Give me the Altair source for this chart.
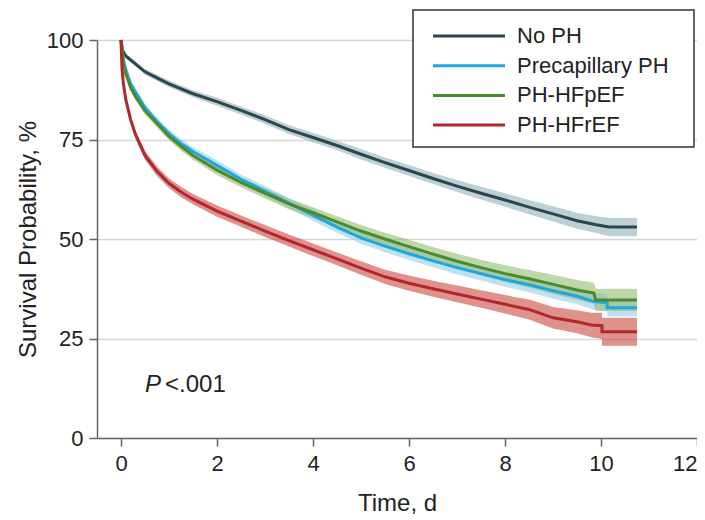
import altair as alt
import pandas as pd

# ---- data (time in days, survival in %) ----
series = ["No PH", "Precapillary PH", "PH-HFpEF", "PH-HFrEF"]
line_colors = ["#2c4650", "#1ea6de", "#4b8b2b", "#b22630"]
band_colors = ["#8fb0ba", "#93cdee", "#93bd72", "#c9483d"]

t_noph = [0, 0.03, 0.1, 0.25, 0.5, 0.75, 1, 1.5, 2, 2.5, 3, 3.5, 4, 4.5, 5, 5.5, 6, 6.5, 7, 7.5, 8, 8.5, 9, 9.5, 9.9, 10.17, 10.75]
s_noph = [100, 97.5, 96, 94.5, 92, 90.5, 89, 86.5, 84.5, 82.3, 80, 77.5, 75.5, 73.5, 71.3, 69.2, 67.2, 65.2, 63.3, 61.5, 59.8, 58, 56.3, 54.6, 53.6, 53, 53]
ci_noph = [0, 0.4, 0.5, 0.6, 0.7, 0.8, 0.8, 0.9, 1.0, 1.0, 1.1, 1.1, 1.2, 1.2, 1.3, 1.3, 1.4, 1.4, 1.5, 1.6, 1.7, 1.8, 1.9, 2.0, 2.1, 2.3, 2.3]

t_pre = [0, 0.05, 0.1, 0.2, 0.3, 0.5, 0.75, 1, 1.25, 1.5, 2, 2.5, 3, 3.5, 4, 4.5, 5, 5.5, 6, 6.5, 7, 7.5, 8, 8.5, 9, 9.5, 9.85, 10.13, 10.13, 10.75]
s_pre = [100, 95, 92.5, 89, 87, 83, 79.5, 76.5, 74, 72, 68.5, 65, 62, 59, 56, 53, 50.3, 48.2, 46.3, 44.5, 42.8, 41.3, 39.8, 38.5, 37, 35.6, 34.3, 34.0, 32.7, 32.7]
ci_pre = [0, 0.5, 0.6, 0.7, 0.8, 0.9, 1.0, 1.0, 1.1, 1.1, 1.2, 1.2, 1.3, 1.3, 1.4, 1.4, 1.5, 1.5, 1.6, 1.6, 1.7, 1.7, 1.8, 1.9, 2.0, 2.0, 2.1, 2.2, 2.2, 2.2]

t_hfp = [0, 0.05, 0.1, 0.2, 0.3, 0.5, 0.75, 1, 1.25, 1.5, 2, 2.5, 3, 3.5, 4, 4.5, 5, 5.5, 6, 6.5, 7, 7.5, 8, 8.5, 9, 9.5, 9.85, 9.89, 10.75]
s_hfp = [100, 94, 91.5, 88, 85.8, 82.2, 79, 75.8, 73.3, 71, 67.3, 64.2, 61.5, 58.8, 56.6, 54.3, 52, 50, 48.1, 46.2, 44.4, 42.8, 41.3, 40, 38.6, 37.2, 36.4, 34.7, 34.7]
ci_hfp = [0, 0.5, 0.6, 0.7, 0.8, 0.9, 1.0, 1.0, 1.1, 1.1, 1.2, 1.2, 1.3, 1.3, 1.4, 1.4, 1.5, 1.6, 1.7, 1.8, 1.9, 2.0, 2.1, 2.2, 2.4, 2.5, 2.6, 2.8, 2.8]

t_hfr = [0, 0.02, 0.05, 0.1, 0.2, 0.3, 0.5, 0.75, 1, 1.25, 1.5, 2, 2.5, 3, 3.5, 4, 4.5, 5, 5.5, 6, 6.5, 7, 7.5, 8, 8.5, 9, 9.5, 9.8, 10.02, 10.02, 10.75]
s_hfr = [100, 93, 89, 85, 80, 76.3, 71, 67, 64, 61.8, 60, 57, 54.5, 52, 49.6, 47.3, 45, 42.7, 40.5, 38.9, 37.5, 36.2, 34.9, 33.6, 32.3, 30.2, 29.2, 28.4, 28.2, 26.7, 26.7]
ci_hfr = [0, 0.8, 0.9, 1.0, 1.0, 1.1, 1.1, 1.2, 1.2, 1.3, 1.3, 1.4, 1.4, 1.5, 1.5, 1.6, 1.6, 1.7, 1.8, 1.9, 2.0, 2.1, 2.2, 2.3, 2.5, 2.7, 2.9, 3.1, 3.3, 3.5, 3.5]

x_ticks = [0, 2, 4, 6, 8, 10, 12]
y_ticks = [0, 25, 50, 75, 100]

all_series = [
    ("No PH", t_noph, s_noph, ci_noph),
    ("Precapillary PH", t_pre, s_pre, ci_pre),
    ("PH-HFpEF", t_hfp, s_hfp, ci_hfp),
    ("PH-HFrEF", t_hfr, s_hfr, ci_hfr),
]

FONT = "Liberation Sans"

xscale = alt.Scale(domain=[-0.5, 12], nice=False, zero=False)
yscale = alt.Scale(domain=[0, 100], nice=False)

xaxis = alt.Axis(values=x_ticks, title="Time, d", grid=False, tickSize=8, tickWidth=1.5,
                 domainWidth=1.5, domainColor="#666", tickColor="#666",
                 labelFontSize=22, titleFontSize=24, labelColor="#222", titleColor="#222",
                 titleFontWeight="normal", labelPadding=7, titlePadding=17, labelFont=FONT, titleFont=FONT)
yaxis = alt.Axis(values=y_ticks, title="Survival Probability, %", grid=True, gridColor="#d6d6d6",
                 gridWidth=1.5, tickSize=8, tickWidth=1.5, domainWidth=1.5, domainColor="#666",
                 tickColor="#666", labelFontSize=22, titleFontSize=24, labelColor="#222",
                 titleColor="#222", titleFontWeight="normal", labelPadding=6, titlePadding=6,
                 labelFont=FONT, titleFont=FONT)

band_layers = []
line_layers = []
for k, (name, ts, ss, cs) in enumerate(all_series):
    d = pd.DataFrame({
        "t": ts, "s": ss,
        "lo": [s - c for s, c in zip(ss, cs)],
        "hi": [min(100, s + c) for s, c in zip(ss, cs)],
        "idx": list(range(len(ts))),
    })
    band_layers.append(
        alt.Chart(d).mark_area(color=band_colors[k], opacity=0.6).encode(
            x=alt.X("t:Q", scale=xscale, axis=xaxis),
            y=alt.Y("lo:Q", scale=yscale, axis=yaxis),
            y2=alt.Y2("hi:Q"),
        )
    )
    line_layers.append(
        alt.Chart(d).mark_line(color=line_colors[k], strokeWidth=3).encode(
            x=alt.X("t:Q", scale=xscale, axis=xaxis),
            y=alt.Y("s:Q", scale=yscale, axis=yaxis),
            order="idx:Q",
        )
    )

# ---- manual legend ----
leg_df = pd.DataFrame({"group": series, "idx": list(range(len(series)))})
leg_df["ypx"] = -4 + leg_df["idx"] * 29.7
leg_base = alt.Chart(leg_df)

leg_box = alt.Chart(pd.DataFrame({"k": [0]})).mark_rect(
    fill="white", stroke="#333", strokeWidth=1.5
).encode(x=alt.value(316), x2=alt.value(597), y=alt.value(-30), y2=alt.value(107))

leg_lines = leg_base.mark_rule(strokeWidth=3).encode(
    x=alt.value(336), x2=alt.value(408),
    y=alt.Y("ypx:Q", scale=None),
    stroke=alt.Stroke("group:N", scale=alt.Scale(domain=series, range=line_colors), legend=None),
)
leg_text = leg_base.mark_text(align="left", baseline="middle", fontSize=22, font=FONT, color="#222").encode(
    x=alt.value(420),
    y=alt.Y("ypx:Q", scale=None),
    text="group:N",
)

# ---- P value annotation ----
ann = alt.Chart(pd.DataFrame({"k": [0]}))
p_it = ann.mark_text(text="P", fontStyle="italic", fontSize=24, font=FONT, align="left",
                     baseline="alphabetic", color="#222").encode(x=alt.value(48), y=alt.value(352))
p_rest = ann.mark_text(text="<.001", fontSize=24, font=FONT, align="left",
                       baseline="alphabetic", color="#222").encode(x=alt.value(68), y=alt.value(352))

chart = alt.layer(*band_layers, *line_layers, leg_box, leg_lines, leg_text, p_it, p_rest).properties(
    width=600, height=398,
    autosize=alt.AutoSizeParams(type="none"),
    padding={"left": 89, "top": 32, "right": 0, "bottom": 82},
).configure(font=FONT).configure_view(stroke=None)

chart.save("out.html", embed_options={"renderer": "svg", "actions": False})
